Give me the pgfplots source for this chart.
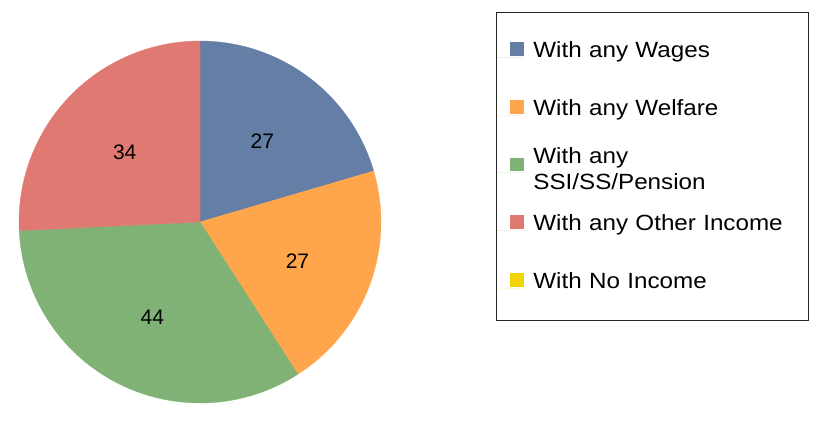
\documentclass[border=0pt]{standalone}
\usepackage{fontspec}
\setmainfont{Liberation Sans}
\newfontfamily\legfont[FakeStretch=1.1]{Liberation Sans}
\usepackage{pgfplots}
\usepackage{pgfplotstable}
\pgfplotsset{compat=1.18}
\definecolor{cWages}{RGB}{100,126,165}
\definecolor{cWelfare}{RGB}{255,166,77}
\definecolor{cSSI}{RGB}{127,178,116}
\definecolor{cOther}{RGB}{223,121,114}
\definecolor{cNone}{RGB}{240,213,0}

\pgfplotstableread{
name value
Wages 27
Welfare 27
SSI 44
Other 34
None 0
}\piedata
\pgfplotstablegetelem{0}{value}\of\piedata \let\vA\pgfplotsretval
\pgfplotstablegetelem{1}{value}\of\piedata \let\vB\pgfplotsretval
\pgfplotstablegetelem{2}{value}\of\piedata \let\vC\pgfplotsretval
\pgfplotstablegetelem{3}{value}\of\piedata \let\vD\pgfplotsretval
\pgfplotstablegetelem{4}{value}\of\piedata \let\vE\pgfplotsretval
\pgfmathsetmacro\tot{\vA+\vB+\vC+\vD+\vE}
\pgfmathsetmacro\aA{90}
\pgfmathsetmacro\aB{\aA-360*\vA/\tot}
\pgfmathsetmacro\aC{\aB-360*\vB/\tot}
\pgfmathsetmacro\aD{\aC-360*\vC/\tot}
\pgfmathsetmacro\aE{\aD-360*\vD/\tot}
\pgfmathsetmacro\mA{(\aA+\aB)/2}
\pgfmathsetmacro\mB{(\aB+\aC)/2}
\pgfmathsetmacro\mC{(\aC+\aD)/2}
\pgfmathsetmacro\mD{(\aD+\aE)/2}

\begin{document}
\begin{tikzpicture}
\begin{axis}[
  scale only axis, width=815pt, height=404pt,
  xmin=0, xmax=815, ymin=0, ymax=404,
  hide axis, clip=false,
  legend cell align=left,
  legend style={at={(axis cs:496,392)}, anchor=north west,
    draw=black!85, line width=0.8pt,
    inner xsep=0pt, inner ysep=27pt, row sep=34.7pt, column sep=9.5pt,
    font=\legfont\fontsize{22}{26}\selectfont,
    nodes={inner sep=0pt, text width=275pt, text height=18pt, text depth=5pt, anchor=base west}},
  legend image code/.code={\fill[#1] (14pt,1.5pt) rectangle (27.5pt,15pt); \path (0pt,0pt) -- (27.5pt,0pt);},
]
\path (axis cs:0,0) rectangle (axis cs:815,404);
\fill[cWages, draw=cWages, line width=0.3pt] (axis cs:200,182) -- ++(\aA:181pt) arc[start angle=\aA, end angle=\aB, radius=181pt] -- cycle;
\fill[cWelfare, draw=cWelfare, line width=0.3pt] (axis cs:200,182) -- ++(\aB:181pt) arc[start angle=\aB, end angle=\aC, radius=181pt] -- cycle;
\fill[cSSI, draw=cSSI, line width=0.3pt] (axis cs:200,182) -- ++(\aC:181pt) arc[start angle=\aC, end angle=\aD, radius=181pt] -- cycle;
\fill[cOther, draw=cOther, line width=0.3pt] (axis cs:200,182) -- ++(\aD:181pt) arc[start angle=\aD, end angle=\aE, radius=181pt] -- cycle;
\node[font=\fontsize{21}{25}\selectfont, shift={(\mA:104pt)}, yshift=-2.5pt] at (axis cs:200,182) {\vA};
\node[font=\fontsize{21}{25}\selectfont, shift={(\mB:104pt)}, yshift=-2.5pt] at (axis cs:200,182) {\vB};
\node[font=\fontsize{21}{25}\selectfont, shift={(\mC:104pt)}, yshift=-2.5pt] at (axis cs:200,182) {\vC};
\node[font=\fontsize{21}{25}\selectfont, shift={(\mD:104pt)}, yshift=-2.5pt] at (axis cs:200,182) {\vD};
\addlegendimage{fill=cWages, draw=none}
\addlegendentry{With any Wages}
\addlegendimage{fill=cWelfare, draw=none}
\addlegendentry{With any Welfare}
\addlegendimage{fill=cSSI, draw=none}
\addlegendentry{\smash{\raisebox{9.7pt}{\begin{tabular}[t]{@{}l@{}}With any\\SSI/SS/Pension\end{tabular}}}}
\addlegendimage{fill=cOther, draw=none}
\addlegendentry{With any Other Income}
\addlegendimage{fill=cNone, draw=none}
\addlegendentry{With No Income}
\end{axis}
\end{tikzpicture}
\end{document}
